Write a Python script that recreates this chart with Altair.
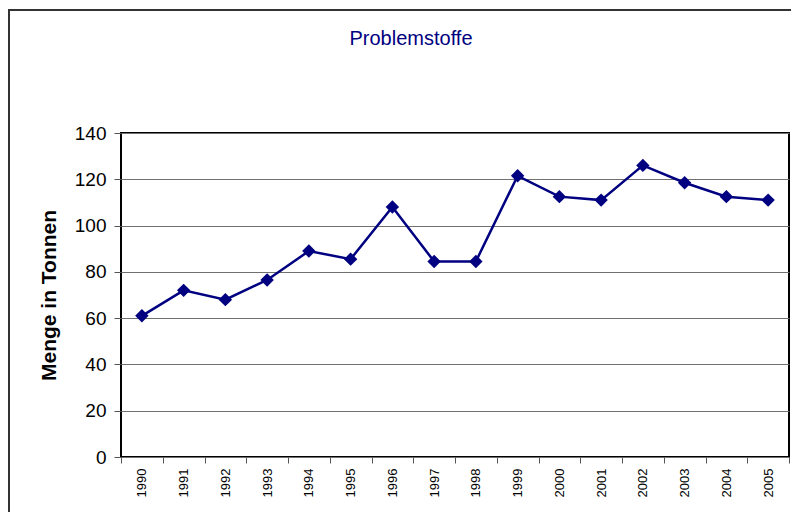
import altair as alt
import pandas as pd

years = ["1990", "1991", "1992", "1993", "1994", "1995", "1996", "1997",
         "1998", "1999", "2000", "2001", "2002", "2003", "2004", "2005"]
values = [61, 72, 68, 76.5, 89, 85.5, 108, 84.5,
          84.5, 121.5, 112.5, 111, 126, 118.5, 112.5, 111]
y_ticks = [0, 20, 40, 60, 80, 100, 120, 140]

df = pd.DataFrame({"Jahr": years, "Menge": values})

FONT = "Liberation Sans"
NAVY = "#000080"

x_enc = alt.X("Jahr:N", sort=years, title=None,
              scale=alt.Scale(paddingInner=0, paddingOuter=0),
              axis=alt.Axis(labelAngle=-90, labelFontSize=13, labelFont=FONT,
                            labelColor="black", labelPadding=5,
                            tickBand="extent", tickSize=6, tickColor="#555",
                            domain=False, grid=False))
y_enc = alt.Y("Menge:Q", title="Menge in Tonnen",
              scale=alt.Scale(domain=[0, 140], nice=False),
              axis=alt.Axis(values=y_ticks, labelFontSize=19, labelFont=FONT,
                            labelColor="black", labelPadding=8,
                            tickSize=7, tickColor="#555", domain=False,
                            grid=True, gridColor="#707070", gridWidth=1,
                            titleFont=FONT, titleFontSize=21,
                            titleFontWeight="bold", titleColor="black",
                            titlePadding=15))

frame = alt.Chart(alt.Data(values=[{}])).mark_rect(
    filled=False, stroke="#333333", strokeWidth=2
).encode(x=alt.value(-112), x2=alt.value(1000),
         y=alt.value(-123), y2=alt.value(1000))

line = alt.Chart(df).mark_line(color=NAVY, strokeWidth=2.5).encode(
    x=x_enc, y=y_enc)
pts = alt.Chart(df).mark_point(shape="diamond", filled=True, color=NAVY,
                               size=180, opacity=1).encode(x=x_enc, y=y_enc)

chart = alt.layer(frame, line, pts).properties(
    width=668, height=324,
    background="white",
    title=alt.TitleParams("Problemstoffe", font=FONT, fontSize=20,
                          fontWeight="normal", color=NAVY, anchor="middle",
                          baseline="alphabetic", offset=-56, dx=-44),
    autosize=alt.AutoSizeParams(type="none"),
    padding={"left": 113, "top": 125, "right": 2, "bottom": 55},
).configure_view(stroke="black", strokeWidth=2, fill="white")

chart.save("out.html", embed_options={"renderer": "svg", "actions": False})
